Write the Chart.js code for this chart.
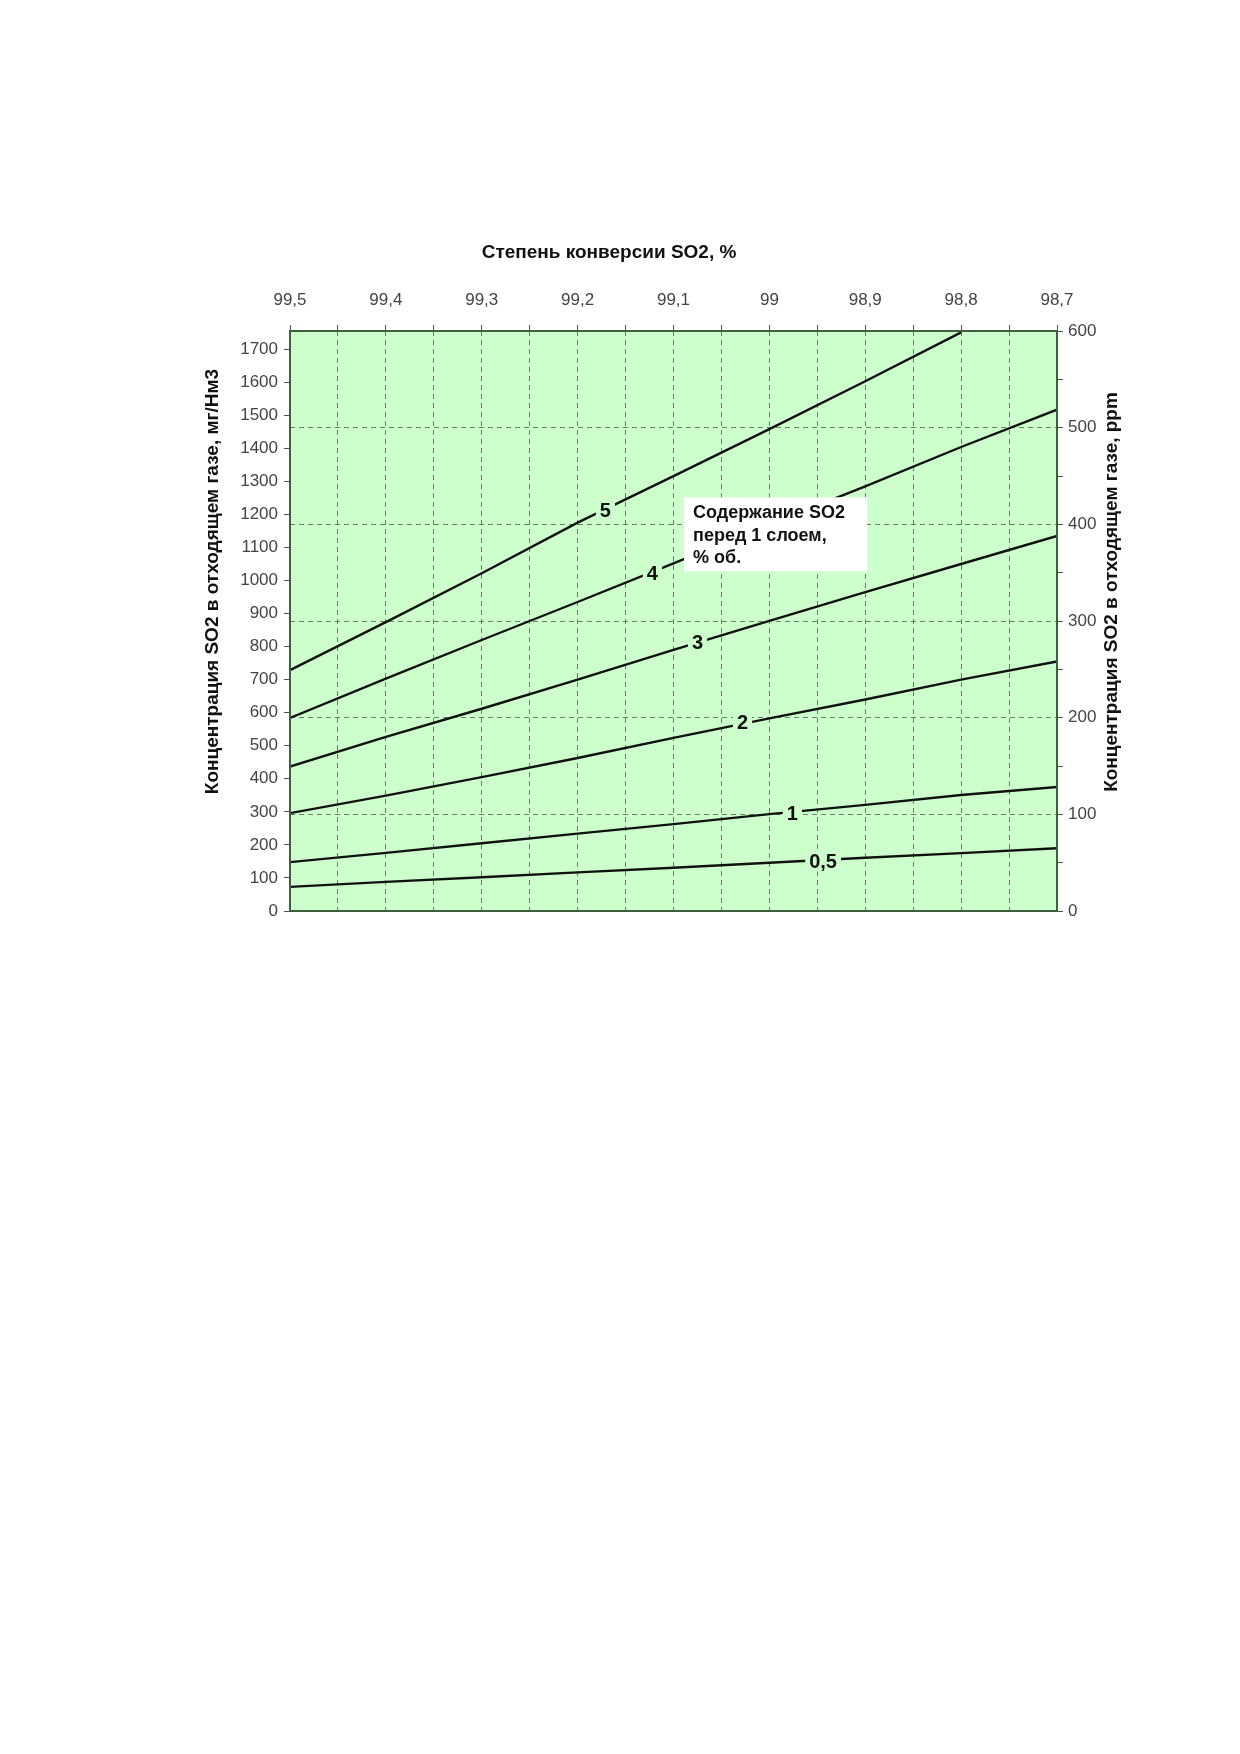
<!DOCTYPE html>
<html>
<head>
<meta charset="utf-8">
<script src="https://cdn.jsdelivr.net/npm/chart.js@4/dist/chart.umd.min.js"></script>
<style>
  body { margin: 0; background: #fff; }
  #plot { position: absolute; left: 0; top: 0; }
</style>
</head>
<body>
<canvas id="plot" width="1240" height="1000"></canvas>
<script>
// степень конверсии, % (ось X сверху, обратная)
const conversion = [99.5, 99.4, 99.3, 99.2, 99.1, 99.0, 98.9, 98.8, 98.7];

// концентрация SO2, мг/Нм3, для разного содержания SO2 перед 1 слоем
const so2_05 = [73, 88, 102, 117, 131, 146, 161, 175, 190];
const so2_1  = [148, 176, 205, 234, 263, 293, 321, 351, 375];
const so2_2  = [296, 349, 405, 463, 524, 583, 640, 700, 755];
const so2_3  = [437, 527, 612, 700, 790, 878, 965, 1050, 1135];
const so2_4  = [584, 703, 820, 935, 1052, 1170, 1285, 1404, 1517];
const so2_5  = [729, 874, 1022, 1175, 1316, 1458, 1603, 1751];

const seriesNames = ['0,5', '1', '2', '3', '4', '5'];
const seriesValues = [so2_05, so2_1, so2_2, so2_3, so2_4, so2_5];

// где стоят подписи кривых (в единицах данных)
const labelX = [98.944, 98.976, 99.028, 99.075, 99.122, 99.171];
const labelY = [150, 296, 569, 811, 1022, 1213];

// надпись в белой рамке
const noteLines = ['Содержание SO2', 'перед 1 слоем,', '% об.'];
const noteBox = { x1: 99.089, x2: 98.898, y1: 1252, y2: 1028 };

const BG = '#ccffcc';
const GRID = 'rgba(70,105,70,0.8)';
const AXIS = '#3f5f3f';
const TICK_FONT = { family: 'Liberation Sans, Arial, sans-serif', size: 17 };

function comma(v) {
    return String(v).replace('.', ',');
}

const extras = {
    id: 'extras',
    beforeDraw(chart) {
        const { ctx, chartArea: a } = chart;
        ctx.save();
        ctx.fillStyle = BG;
        ctx.fillRect(a.left, a.top, a.right - a.left, a.bottom - a.top);
        ctx.restore();
    },
    afterDatasetsDraw(chart) {
        const { ctx, chartArea: a, scales } = chart;
        const xs = scales.x, ys = scales.y;
        ctx.save();

        // рамка области построения
        ctx.strokeStyle = AXIS;
        ctx.lineWidth = 2;
        ctx.strokeRect(a.left, a.top, a.right - a.left, a.bottom - a.top);

        // подписи кривых
        ctx.font = 'bold 20px Liberation Sans, Arial, sans-serif';
        ctx.textAlign = 'center';
        ctx.textBaseline = 'middle';
        seriesNames.forEach((name, i) => {
            const px = xs.getPixelForValue(labelX[i]);
            const py = ys.getPixelForValue(labelY[i]);
            const w = ctx.measureText(name).width + 8;
            ctx.fillStyle = BG;
            ctx.fillRect(px - w / 2, py - 10, w, 20);
            ctx.fillStyle = '#111';
            ctx.fillText(name, px, py + 1);
        });

        // белая рамка с пояснением
        const bx1 = xs.getPixelForValue(noteBox.x1);
        const bx2 = xs.getPixelForValue(noteBox.x2);
        const by1 = ys.getPixelForValue(noteBox.y1);
        const by2 = ys.getPixelForValue(noteBox.y2);
        ctx.fillStyle = '#fff';
        ctx.fillRect(bx1, by1, bx2 - bx1, by2 - by1);
        ctx.fillStyle = '#111';
        ctx.font = 'bold 18px Liberation Sans, Arial, sans-serif';
        ctx.textAlign = 'left';
        noteLines.forEach((t, i) => {
            ctx.fillText(t, bx1 + 9, by1 + 16 + i * 22.5);
        });
        ctx.restore();
    },
    afterDraw(chart) {
        const { ctx, chartArea: a } = chart;
        const h = a.bottom - a.top;
        ctx.save();
        ctx.fillStyle = '#111';
        ctx.font = 'bold 19px Liberation Sans Narrow, Arial Narrow, Liberation Sans, sans-serif';
        ctx.textAlign = 'center';
        ctx.textBaseline = 'middle';
        ctx.fillText('Степень конверсии SO2, %', a.left + 319, a.top - 78);

        ctx.translate(a.left - 77, a.top + h * 0.432);
        ctx.rotate(-Math.PI / 2);
        ctx.fillText('Концентрация SO2 в отходящем газе, мг/Нм3', 0, 0);
        ctx.restore();

        ctx.save();
        ctx.fillStyle = '#111';
        ctx.font = 'bold 19px Liberation Sans Narrow, Arial Narrow, Liberation Sans, sans-serif';
        ctx.textAlign = 'center';
        ctx.textBaseline = 'middle';
        ctx.translate(a.right + 55, a.top + h * 0.45);
        ctx.rotate(-Math.PI / 2);
        ctx.fillText('Концентрация SO2 в отходящем газе, ppm', 0, 0);
        ctx.restore();
    }
};

function drawPlot() {
    const ctx = document.getElementById('plot');

    const datasets = seriesValues.map((vals, i) => ({
        label: seriesNames[i],
        data: vals.map((v, j) => ({ x: conversion[j], y: v })),
        borderColor: '#111',
        borderWidth: 2.4,
        pointRadius: 0,
        tension: 0,
        xAxisID: 'x',
        yAxisID: 'y'
    }));

    new Chart(ctx, {
        type: 'line',
        data: { datasets },
        options: {
            responsive: false,
            animation: false,
            layout: { padding: { left: 230, right: 123, top: 271, bottom: 89 } },
            plugins: {
                legend: { display: false },
                title: { display: false },
                tooltip: { enabled: false }
            },
            scales: {
                x: {
                    type: 'linear',
                    position: 'top',
                    reverse: true,
                    min: 98.7,
                    max: 99.5,
                    afterFit(s) { s.height = 60; },
                    ticks: {
                        stepSize: 0.05,
                        maxRotation: 0,
                        autoSkip: false,
                        padding: 14,
                        color: '#444',
                        font: TICK_FONT,
                        callback(v) {
                            const n = Math.round(v * 20);
                            if (n % 2 !== 0) return '';
                            return comma(Math.round(v * 10) / 10);
                        }
                    },
                    grid: { color: GRID, lineWidth: 1, tickLength: 6, tickColor: AXIS },
                    border: { display: false, dash: [5, 4] }
                },
                y: {
                    type: 'linear',
                    position: 'left',
                    min: 0,
                    max: 1755,
                    afterFit(s) { s.width = 60; },
                    ticks: {
                        stepSize: 100,
                        includeBounds: false,
                        padding: 6,
                        color: '#444',
                        font: TICK_FONT,
                        callback(v) { return v % 100 === 0 ? String(v) : ''; }
                    },
                    grid: { drawOnChartArea: false, tickLength: 6, tickColor: AXIS },
                    border: { display: false }
                },
                y2: {
                    type: 'linear',
                    position: 'right',
                    min: 0,
                    max: 600,
                    afterFit(s) { s.width = 60; },
                    ticks: {
                        stepSize: 50,
                        padding: 5,
                        color: '#444',
                        font: TICK_FONT,
                        callback(v) { return v % 100 === 0 ? String(v) : ''; }
                    },
                    grid: {
                        color(c) { return c.tick && c.tick.value % 100 === 0 ? GRID : 'rgba(0,0,0,0)'; },
                        tickLength: 6,
                        tickColor: AXIS
                    },
                    border: { display: false, dash: [5, 4] }
                }
            }
        },
        plugins: [extras]
    });

    console.log("Finished setting up graph");
}

drawPlot();
</script>
</body>
</html>
